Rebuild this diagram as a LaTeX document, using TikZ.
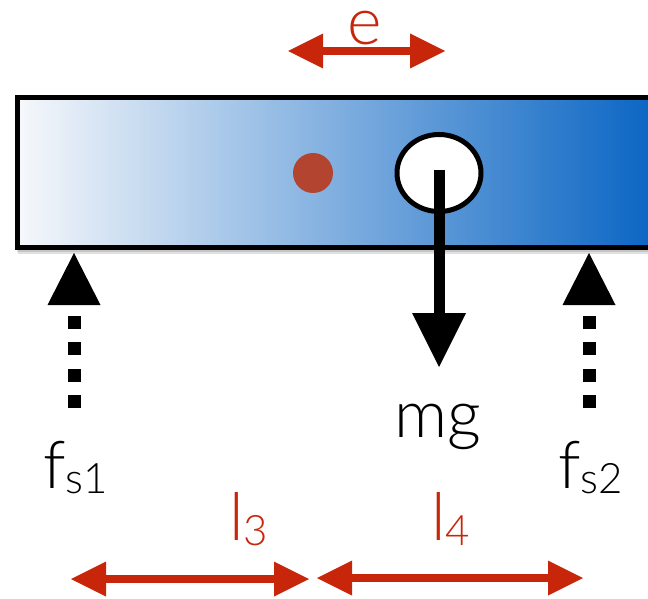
\documentclass[tikz,border=0pt]{standalone}
\usepackage{fontspec}
\newfontfamily\lightfont{Lato Light}
\usetikzlibrary{arrows.meta,shapes.geometric}
\definecolor{arrred}{RGB}{200,38,10}
\definecolor{dotred}{RGB}{178,68,48}
\definecolor{barleft}{RGB}{246,248,251}
\definecolor{barright}{RGB}{8,100,195}
\newcommand\subtxt[1]{\raisebox{-5bp}{\fontsize{42bp}{42bp}\selectfont #1}}
\begin{document}
\begin{tikzpicture}[x=1bp,y=-1bp,
  redarrow/.style={draw=arrred, line width=8bp,
    {Triangle[length=35bp,width=35bp,line width=0pt]}-{Triangle[length=35bp,width=35bp,line width=0pt]}},
  force/.style={line width=11bp, -{Triangle[length=54bp,width=54bp,line width=0pt]}},
  support/.style={line width=13bp, dash pattern=on 13bp off 13.5bp,
    -{Triangle[length=52bp,width=53bp,line width=0pt]}},
  lbl/.style={inner sep=0pt, anchor=base west, font=\lightfont\fontsize{66bp}{66bp}\selectfont},
  redlbl/.style={lbl, text=arrred},
  ]
\useasboundingbox (0,0) rectangle (648,599);
\clip (0,0) rectangle (648,599);
% shadow
\fill[black, opacity=0.12] (18,100) rectangle (700,254);
\fill[black, opacity=0.12] (17,99) rectangle (700,252);
% bar
\path[left color=barleft, right color=barright] (17,97.5) rectangle (660,247.5);
\draw[line width=5bp] (17,97.5) rectangle (700,247.5);
% centre of mass dot
\fill[dotred] (313,173) circle (20);
% gravity point
\node[draw, fill=white, line width=5bp, ellipse, minimum width=84bp, minimum height=77bp, inner sep=0pt] (cg) at (439,173) {};
\coordinate (mgtip) at (439,367);
\draw[force] ([yshift=3bp]cg.center) -- (mgtip);
\node[lbl, anchor=base] (mg) at (438,437) {mg};
% supports
\coordinate (s1b) at (74,408);
\coordinate (s1t) at (74,253);
\coordinate (s2b) at (589,408);
\coordinate (s2t) at (589,253);
\draw[support] (s1b) -- (s1t);
\draw[support] (s2b) -- (s2t);
\node[lbl] (fs1) at (43,488) {f\subtxt{s1}};
\node[lbl] (fs2) at (558,488) {f\subtxt{s2}};
% eccentricity
\coordinate (eL) at (288,51);
\coordinate (eR) at (445,51);
\draw[redarrow] (eL) -- (eR);
\node[redlbl, anchor=base] (e) at (364.5,45) {e};
% distances
\coordinate (l3L) at (71,579);
\coordinate (l3R) at (309,579);
\coordinate (l4L) at (317,578);
\coordinate (l4R) at (583,578);
\draw[redarrow] (l3L) -- (l3R);
\draw[redarrow] (l4L) -- (l4R);
\node[redlbl] (l3) at (229,540) {l\subtxt{3}};
\node[redlbl] (l4) at (431,540) {l\subtxt{4}};
\end{tikzpicture}
\end{document}
